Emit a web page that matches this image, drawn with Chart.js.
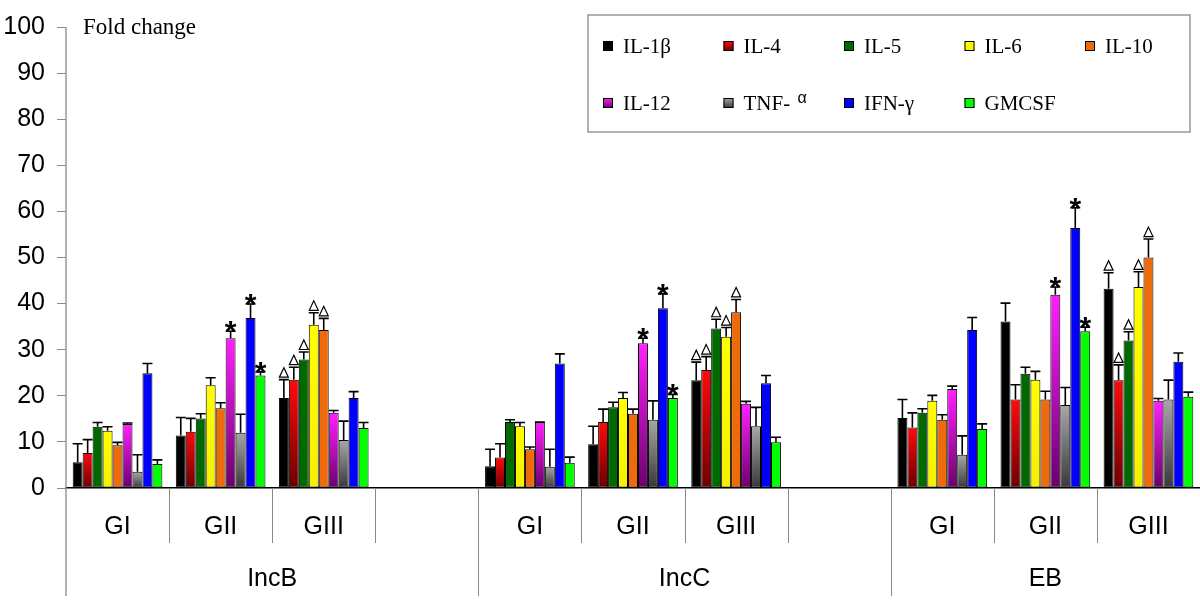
<!DOCTYPE html>
<html>
<head>
<meta charset="utf-8">
<script src="https://cdn.jsdelivr.net/npm/chart.js@4.4.1/dist/chart.umd.min.js"></script>
<style>
  html, body { margin: 0; padding: 0; background: #fff; overflow: hidden; }
  #wrap { width: 1200px; height: 604px; }
</style>
</head>
<body>
<div id="wrap"><canvas id="myChart" width="1200" height="604"></canvas></div>
<script>
// DATA
var categories = ["GI", "GII", "GIII", "", "GI", "GII", "GIII", "", "GI", "GII", "GIII"];
var groups = ["IncB", "IncC", "EB"];
var groupSpans = [4, 4, 3];
var yMin = 0, yMax = 100, yStep = 10;

var seriesNames = ["IL-1β", "IL-4", "IL-5", "IL-6", "IL-10", "IL-12", "TNF- α", "IFN-γ", "GMCSF"];

var il1b = [5.6, 11.4, 19.5, null, 4.7, 9.5, 23.4, null, 15.2, 36.1, 43.2];
var il4 = [7.6, 12.2, 23.5, null, 6.6, 14.3, 25.6, null, 13.1, 19.2, 23.4];
var il5 = [13.3, 15.1, 27.9, null, 14.3, 17.5, 34.6, null, 16.3, 24.8, 32.0];
var il6 = [12.4, 22.3, 35.4, null, 13.4, 19.5, 32.8, null, 18.9, 23.5, 43.6];
var il10 = [9.3, 17.3, 34.3, null, 8.4, 16.1, 38.1, null, 14.8, 19.2, 50.0];
var il12 = [13.9, 32.5, 16.3, null, 14.2, 31.4, 18.3, null, 21.5, 41.9, 18.9];
var tnfa = [3.5, 12.0, 10.4, null, 4.6, 14.8, 13.4, null, 7.2, 18.0, 19.2];
var ifng = [24.9, 36.9, 19.5, null, 27.0, 39.0, 22.7, null, 34.3, 56.4, 27.4];
var gmcsf = [5.2, 24.4, 13.0, null, 5.5, 19.5, 9.9, null, 12.8, 34.0, 19.8];

// error bar (upper) sizes
var il1bErr = [4.0, 3.9, 4.0, null, 3.7, 3.9, 3.9, null, 4.0, 4.0, 3.5];
var il4Err = [2.9, 2.9, 2.7, null, 3.0, 2.8, 2.9, null, 3.2, 3.2, 3.3];
var il5Err = [0.9, 1.0, 1.6, null, 0.5, 1.1, 2.0, null, 0.9, 1.4, 1.9];
var il6Err = [0.9, 1.6, 2.6, null, 0.8, 1.2, 2.0, null, 1.2, 1.8, 3.3];
var il10Err = [0.6, 1.2, 2.5, null, 0.5, 1.0, 2.8, null, 1.1, 1.8, 4.0];
var il12Err = [0.2, 1.5, 0.5, null, 0.1, 1.1, 0.5, null, 0.6, 1.7, 0.5];
var tnfaErr = [3.7, 4.0, 4.1, null, 3.8, 4.1, 4.1, null, 4.1, 3.8, 4.2];
var ifngErr = [2.1, 3.0, 1.4, null, 2.1, 3.1, 1.7, null, 2.7, 4.4, 1.9];
var gmcsfErr = [0.9, 0.8, 1.2, null, 1.2, 0.8, 1.1, null, 1.1, 0.9, 1.0];

// significance marks
var il1bMark = ["", "", "Δ", "", "", "", "Δ", "", "", "", "Δ"];
var il4Mark = ["", "", "Δ", "", "", "", "Δ", "", "", "", "Δ"];
var il5Mark = ["", "", "Δ", "", "", "", "Δ", "", "", "", "Δ"];
var il6Mark = ["", "", "Δ", "", "", "", "Δ", "", "", "", "Δ"];
var il10Mark = ["", "", "Δ", "", "", "", "Δ", "", "", "", "Δ"];
var il12Mark = ["", "*", "", "", "", "*", "", "", "", "*", ""];
var tnfaMark = ["", "", "", "", "", "", "", "", "", "", ""];
var ifngMark = ["", "*", "", "", "", "*", "", "", "", "*", ""];
var gmcsfMark = ["", "*", "", "", "", "*", "", "", "", "*", ""];

var seriesValues = [il1b, il4, il5, il6, il10, il12, tnfa, ifng, gmcsf];
var seriesErr = [il1bErr, il4Err, il5Err, il6Err, il10Err, il12Err, tnfaErr, ifngErr, gmcsfErr];
var seriesMarks = [il1bMark, il4Mark, il5Mark, il6Mark, il10Mark, il12Mark, tnfaMark, ifngMark, gmcsfMark];

// bar colours: top and bottom of the gradient
var topColors = ["#000000", "#ff0a0a", "#006a00", "#ffff00", "#ee6a0a", "#ff20ff", "#a8a8a8", "#0000ff", "#00ff00"];
var bottomColors = ["#000000", "#6a0000", "#006a00", "#f4f000", "#ee6a0a", "#6a006a", "#383838", "#0000ff", "#00ff00"];

var SANS = '"Liberation Sans", Arial, sans-serif';
var SERIF = '"Liberation Serif", "Times New Roman", serif';

function barFill(i) {
  return function (c) {
    if (c.type !== "data" || !c.chart.scales || !c.chart.scales.y) return topColors[i];
    var ys = c.chart.scales.y;
    var y0 = ys.getPixelForValue(0);
    var y1 = ys.getPixelForValue(c.raw || 0);
    if (!isFinite(y0) || !isFinite(y1) || y0 === y1) return topColors[i];
    var g = c.chart.ctx.createLinearGradient(0, y0, 0, y1);
    g.addColorStop(0, bottomColors[i]);
    g.addColorStop(1, topColors[i]);
    return g;
  };
}

var datasets = seriesNames.map(function (name, i) {
  return {
    label: name,
    data: seriesValues[i],
    err: seriesErr[i],
    marks: seriesMarks[i],
    backgroundColor: barFill(i),
    borderColor: "#000",
    borderWidth: 1,
    borderSkipped: false,
    barPercentage: 1.0,
    categoryPercentage: 0.87,
  };
});

// ERROR BARS, MARKS, AXIS LABELS, LEGEND
var extras = {
  id: "extras",
  afterDatasetsDraw: function (chart) {
    var ctx = chart.ctx, ys = chart.scales.y;
    chart.data.datasets.forEach(function (ds, di) {
      var meta = chart.getDatasetMeta(di);
      meta.data.forEach(function (bar, i) {
        var v = ds.data[i];
        if (v == null) return;
        var top = ys.getPixelForValue(v + ds.err[i]);
        var half = bar.width / 2;
        ctx.save();
        ctx.strokeStyle = "#000";
        ctx.lineWidth = 1.6;
        ctx.beginPath();
        ctx.moveTo(bar.x, bar.y);
        ctx.lineTo(bar.x, top);
        ctx.moveTo(bar.x - half, top);
        ctx.lineTo(bar.x + half, top);
        ctx.stroke();
        var m = ds.marks[i];
        if (m === "*") {
          ctx.fillStyle = "#000";
          ctx.font = "bold 30px " + SANS;
          ctx.textAlign = "center";
          ctx.textBaseline = "alphabetic";
          ctx.fillText("*", bar.x, top + 10);
        } else if (m === "Δ") {
          ctx.lineWidth = 1.2;
          ctx.beginPath();
          ctx.moveTo(bar.x, top - 12);
          ctx.lineTo(bar.x - 4.5, top - 2.5);
          ctx.lineTo(bar.x + 4.5, top - 2.5);
          ctx.closePath();
          ctx.stroke();
        }
        ctx.restore();
      });
    });
  },
  afterDraw: function (chart) {
    var ctx = chart.ctx, xs = chart.scales.x, area = chart.chartArea;
    var step = (xs.getPixelForValue(1) - xs.getPixelForValue(0));
    ctx.save();
    // y axis line, running down past the x axis
    ctx.strokeStyle = "#999";
    ctx.lineWidth = 1.5;
    ctx.beginPath();
    ctx.moveTo(area.left, area.top);
    ctx.lineTo(area.left, 596);
    ctx.stroke();

    // separators under the x axis
    var bigBounds = [];
    var acc = 0;
    groupSpans.forEach(function (s) { acc += s; bigBounds.push(acc); });
    ctx.strokeStyle = "#888";
    ctx.lineWidth = 1;
    for (var b = 1; b < categories.length; b++) {
      var bx = Math.round(xs.getPixelForValue(b) - step / 2) + 0.5;
      var long = bigBounds.indexOf(b) >= 0;
      ctx.beginPath();
      ctx.moveTo(bx, area.bottom);
      ctx.lineTo(bx, long ? 596 : 543);
      ctx.stroke();
    }

    // category labels
    ctx.fillStyle = "#000";
    ctx.font = "25px " + SANS;
    ctx.textAlign = "center";
    ctx.textBaseline = "middle";
    categories.forEach(function (c, i) {
      if (c) ctx.fillText(c, xs.getPixelForValue(i), 527);
    });
    // group labels
    var start = 0;
    groups.forEach(function (g, gi) {
      var x0 = xs.getPixelForValue(start) - step / 2;
      var x1 = xs.getPixelForValue(start + groupSpans[gi] - 1) + step / 2;
      ctx.fillText(g, (x0 + x1) / 2, 579);
      start += groupSpans[gi];
    });

    // y title
    ctx.font = "23px " + SERIF;
    ctx.textAlign = "left";
    ctx.textBaseline = "alphabetic";
    ctx.fillText("Fold change", 83, 34);

    // legend box
    ctx.strokeStyle = "#999";
    ctx.lineWidth = 1.5;
    ctx.strokeRect(588, 15, 602, 117);
    seriesNames.forEach(function (name, i) {
      var col = i % 5, row = Math.floor(i / 5);
      var sx = 603 + col * 120.5;
      var base = 53 + row * 57;
      var g = ctx.createLinearGradient(0, base - 2, 0, base - 12);
      g.addColorStop(0, bottomColors[i]);
      g.addColorStop(1, topColors[i]);
      ctx.fillStyle = g;
      ctx.fillRect(sx, base - 12, 10, 10);
      ctx.strokeStyle = "#000";
      ctx.lineWidth = 1;
      ctx.strokeRect(sx + 0.5, base - 11.5, 9, 9);
      ctx.fillStyle = "#000";
      ctx.font = "21px " + SERIF;
      if (name.indexOf(" α") >= 0) {
        var head = name.replace(" α", " ");
        ctx.fillText(head, sx + 20, base);
        var w = ctx.measureText(head).width;
        ctx.font = "16px " + SANS;
        ctx.fillText("α", sx + 20 + w + 2, base - 7);
      } else {
        ctx.fillText(name, sx + 20, base);
      }
    });
    ctx.restore();
  },
};

new Chart("myChart", {
  type: "bar",
  data: { labels: categories, datasets: datasets },
  options: {
    responsive: false,
    animation: false,
    layout: { padding: { top: 25, bottom: 116, left: 0, right: 0 } },
    plugins: { legend: { display: false }, tooltip: { enabled: false }, title: { display: false } },
    scales: {
      x: {
        offset: true,
        grid: { display: false },
        ticks: { display: false },
        border: { display: true, color: "#000", width: 1.5 },
        afterFit: function (s) { s.height = 0; },
      },
      y: {
        min: yMin,
        max: yMax,
        ticks: { stepSize: yStep, color: "#000", font: { family: SANS, size: 25 }, padding: 12 },
        grid: { drawOnChartArea: false, drawTicks: true, tickLength: 9, color: "#888" },
        border: { display: false },
        afterFit: function (s) { s.width = 66; },
      },
    },
  },
  plugins: [extras],
});
</script>
</body>
</html>
